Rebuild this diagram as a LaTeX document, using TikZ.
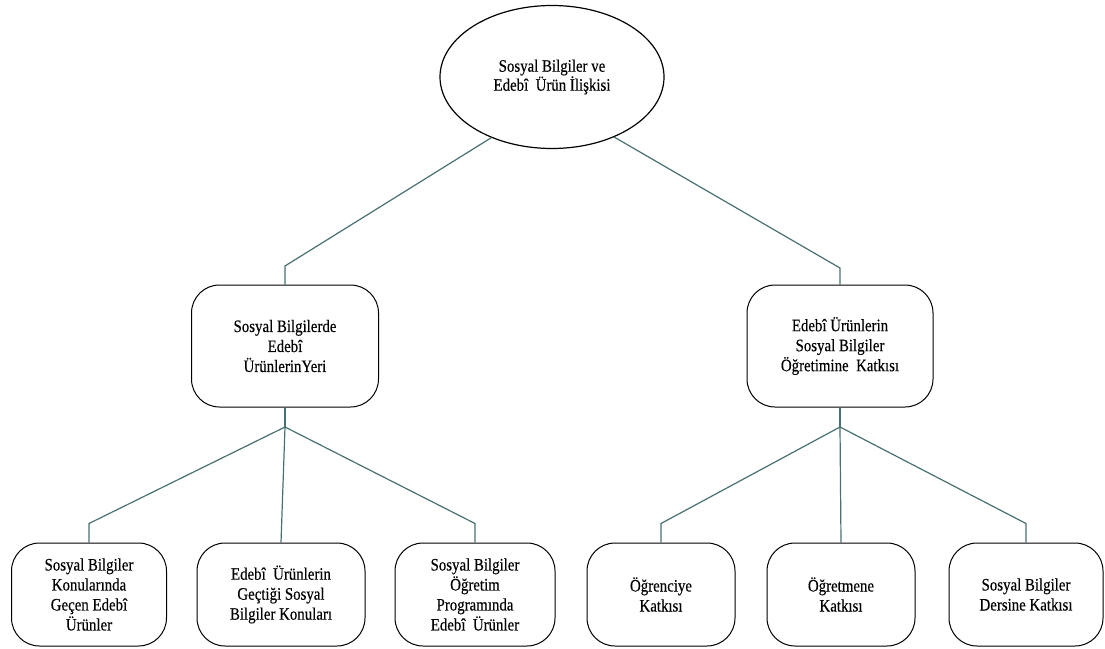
\documentclass[tikz,border=0pt]{standalone}
\usepackage{fontspec}
\setmainfont{Liberation Serif}
\newfontfamily\kutuyazi[FakeStretch=0.85, FakeBold=0.3]{Liberation Serif}
\usetikzlibrary{shapes.geometric}
\definecolor{linkgray}{RGB}{72,112,112}
\tikzset{
  link/.style={draw=linkgray, line width=1.2pt},
  kutu/.style={draw=black, line width=1pt, rounded corners=28pt, align=center, inner sep=2pt, font=\kutuyazi\fontsize{17.5}{20}\selectfont},
}

\begin{document}
\begin{tikzpicture}[x=1pt, y=-1pt]
\useasboundingbox (0,0) rectangle (1105,648);
\node[draw=black, line width=1.2pt, ellipse, inner sep=0pt, minimum width=224pt, minimum height=143pt, align=center, font=\kutuyazi\fontsize{17.5}{19}\selectfont] (ana) at (552,77) {Sosyal Bilgiler ve\\Edebî\ \ Ürün İlişkisi};
\node[kutu, minimum width=187pt, minimum height=122pt] (yer) at (285,346) {Sosyal Bilgilerde\\Edebî\\ÜrünlerinYeri};
\node[kutu, minimum width=186pt, minimum height=122pt] (katki) at (840,346) {Edebî Ürünlerin\\Sosyal Bilgiler\\Öğretimine\ \ Katkısı};
\node[kutu, minimum width=155pt, minimum height=103pt] (konu) at (89,594.5) {Sosyal Bilgiler\\Konularında\\Geçen Edebî\\Ürünler};
\node[kutu, minimum width=168pt, minimum height=103pt] (gecti) at (281,594.5) {Edebî\ \ Ürünlerin\\Geçtiği Sosyal\\Bilgiler Konuları};
\node[kutu, minimum width=160pt, minimum height=103pt] (program) at (475,594.5) {Sosyal Bilgiler\\Öğretim\\Programında\\Edebî\ \ Ürünler};
\node[kutu, minimum width=148pt, minimum height=103pt] (ogrenci) at (661,594.5) {Öğrenciye\\Katkısı};
\node[kutu, minimum width=148pt, minimum height=103pt] (ogretmen) at (841,594.5) {Öğretmene\\Katkısı};
\node[kutu, minimum width=154pt, minimum height=103pt] (ders) at (1026,594.5) {Sosyal Bilgiler\\Dersine Katkısı};
\coordinate (sol) at (285,266);
\coordinate (sag) at (840,268);
\coordinate (ayrim1) at (285,427);
\coordinate (ayrim2) at (840,427);
\draw[link] (ana.225.5) -- (sol) -- (yer.north);
\draw[link] (ana.316) -- (sag) -- (katki.north);
\draw[link] (yer.south) -- (ayrim1);
\draw[link] (katki.south) -- (ayrim2);
\foreach \k in {konu,program}{
	\draw[link] (ayrim1) -- ([yshift=19pt]\k.north) -- (\k.north);
}
\draw[link] (ayrim1) -- (gecti.north);
\foreach \k in {ogrenci,ders}{
	\draw[link] (ayrim2) -- ([yshift=19pt]\k.north) -- (\k.north);
}
\draw[link] (ayrim2) -- (ogretmen.north);
\end{tikzpicture}
\end{document}
